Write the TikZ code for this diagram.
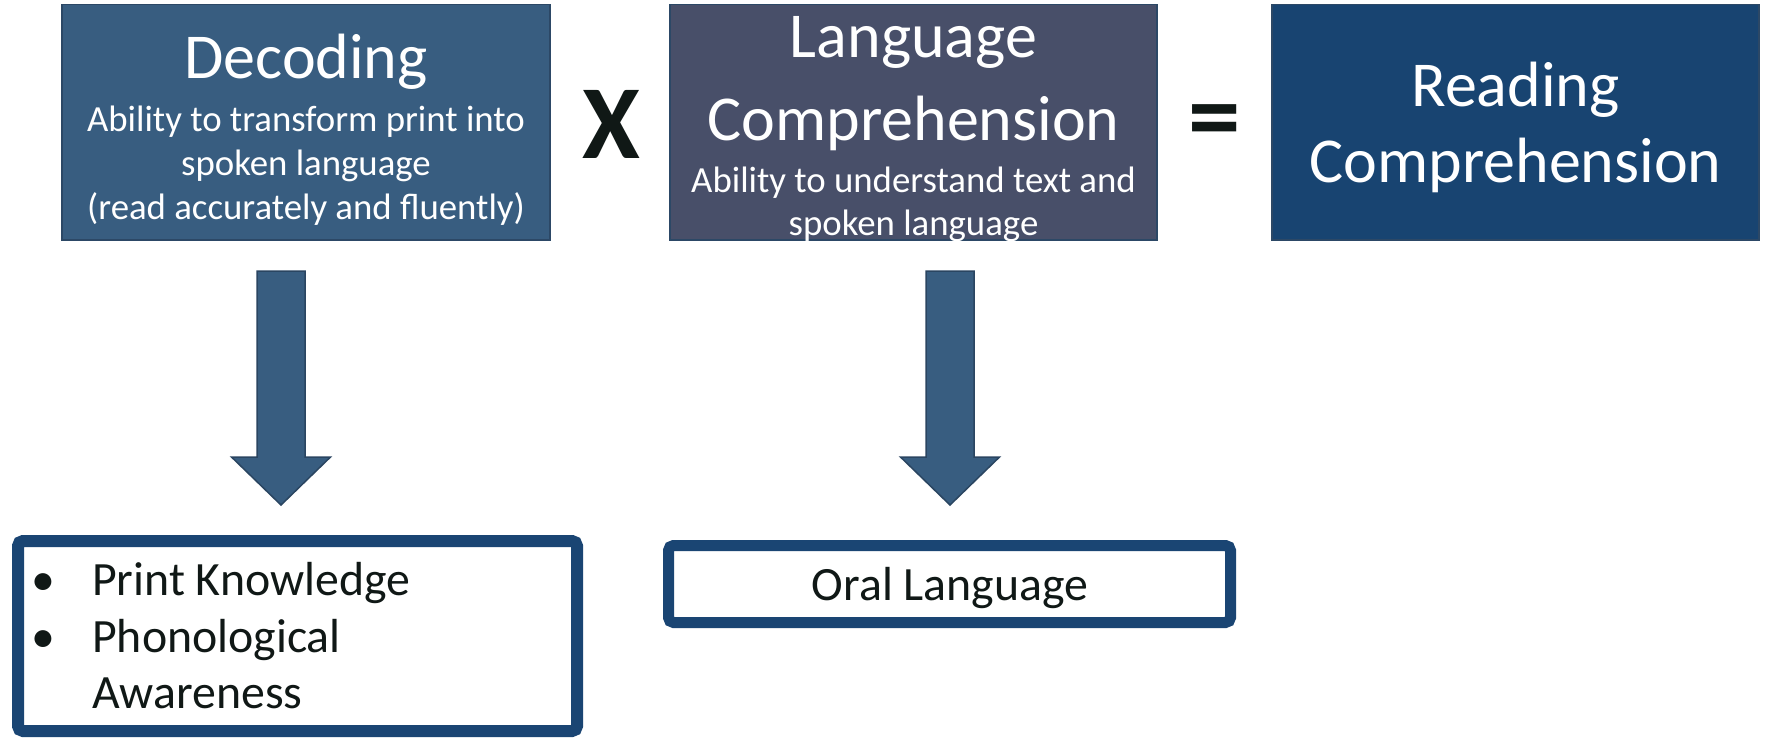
\documentclass[tikz,border=0pt]{standalone}
\usepackage{fontspec}
\setmainfont{Carlito}
\usetikzlibrary{calc}
\definecolor{decfill}{HTML}{385D80}
\definecolor{langfill}{HTML}{484F69}
\definecolor{readfill}{HTML}{184471}
\definecolor{boxedge}{HTML}{2C4866}
\definecolor{arrowfill}{HTML}{385D80}
\definecolor{arrowedge}{HTML}{2A4561}
\definecolor{navy}{HTML}{1A4573}
\definecolor{ink}{HTML}{101816}
\tikzset{
  topbox/.style={fill=#1, draw=boxedge, line width=1.5pt, inner sep=0pt},
  titletext/.style={text=white, font=\fontsize{64}{78}\selectfont, anchor=base, inner sep=0pt},
  subtext/.style={text=white, font=\fontsize{36.8}{44}\selectfont, anchor=base, inner sep=0pt},
  listbox/.style={draw=navy, line width=#1, rounded corners=5pt, fill=white, inner sep=0pt},
  bodytext/.style={text=ink, font=\fontsize{47.8}{57}\selectfont, inner sep=0pt},
  opsign/.style={text=ink, font=\fontsize{105}{120}\selectfont\bfseries, inner sep=0pt, anchor=center},
  blockarrow/.style={fill=arrowfill, draw=arrowedge, line width=1.5pt, line join=miter},
}
\begin{document}
\begin{tikzpicture}[x=1pt,y=-1pt]
\useasboundingbox (0,0) rectangle (1766,737);
\fill[white] (0,0) rectangle (1766,737);

% top boxes
\node[topbox=decfill, minimum width=488pt, minimum height=235.5pt] (dec) at (306,122.25) {};
\node[topbox=langfill, minimum width=487pt, minimum height=235.5pt] (lang) at (913.5,122.25) {};
\node[topbox=readfill, minimum width=487pt, minimum height=235.5pt] (read) at (1515.5,122.25) {};

% Decoding text
\node[titletext] (dect) at (306,78) {Decoding};
\node[subtext] (decs1) at (306,131) {Ability to transform print into};
\node[subtext] (decs2) at (306,175) {spoken language};
\node[subtext] (decs3) at (306,219) {(read accurately and fluently)};

% Language comprehension text
\node[titletext] (langt1) at (913.5,57) {Language};
\node[titletext] (langt2) at (913.5,140) {Comprehension};
\node[subtext] (langs1) at (913.5,192) {Ability to understand text and};
\node[subtext] (langs2) at (913.5,235) {spoken language};

% Reading comprehension text
\node[titletext] (readt1) at (1515.5,106) {Reading};
\node[titletext] (readt2) at (1515.5,182) {Comprehension};

% operators
\node[opsign] (times) at (611.5,124.5) {X};
\node[opsign] (equals) at (1215,128) {=};

% bottom boxes
\node[listbox=12pt, minimum width=559pt, minimum height=190pt] (list) at (297.5,636) {};
\node[listbox=11pt, minimum width=562pt, minimum height=77pt] (oral) at (949.5,584) {};

\node[bodytext, anchor=base] (b1) at (43,595) {•};
\node[bodytext, anchor=base] (b2) at (43,652) {•};
\node[bodytext, anchor=base west] (l1) at (92,595) {Print Knowledge};
\node[bodytext, anchor=base west] (l2) at (92,652) {Phonological};
\node[bodytext, anchor=base west] (l3) at (92,708) {Awareness};
\node[bodytext, anchor=base] (oralt) at (950,600) {Oral Language};

% block arrows
\coordinate (a1top) at (281,271);
\coordinate (a1tip) at (281,505);
\coordinate (a2top) at (950,271);
\coordinate (a2tip) at (950,505);
\foreach \t/\p in {a1top/a1tip, a2top/a2tip}{
  \draw[blockarrow] ($(\t)+(-24,0)$) -- ($(\t)+(24,0)$) -- ($(\p)+(24,-48)$)
    -- ($(\p)+(49.5,-48)$) -- (\p) -- ($(\p)+(-49.5,-48)$) -- ($(\p)+(-24,-48)$) -- cycle;
}
\end{tikzpicture}
\end{document}
